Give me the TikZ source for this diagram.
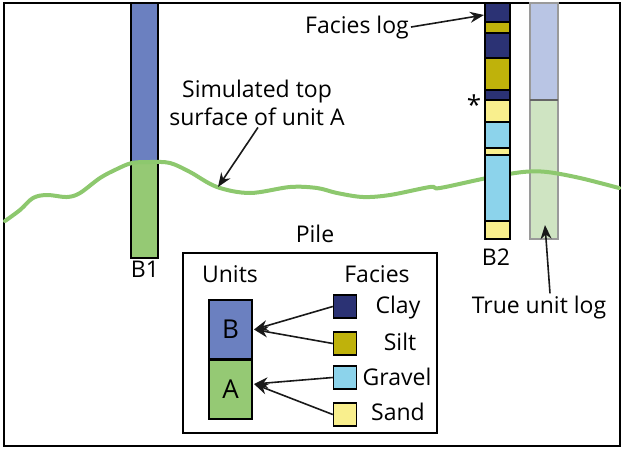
\documentclass[tikz,border=0pt]{standalone}
\usepackage{fontspec}
\setmainfont{Open Sans}
\usetikzlibrary{arrows.meta}
\definecolor{unitB}{HTML}{6B80C0}
\definecolor{unitA}{HTML}{95C974}
\definecolor{clay}{HTML}{2B3274}
\definecolor{silt}{HTML}{BFB20B}
\definecolor{gravel}{HTML}{8CD3EB}
\definecolor{sand}{HTML}{F9EF8D}
\definecolor{trueB}{HTML}{B9C5E4}
\definecolor{trueA}{HTML}{CFE4C2}
\definecolor{trueedge}{HTML}{9A9A9A}
\definecolor{wave}{HTML}{8DC86E}
\begin{document}
\begin{tikzpicture}[x=1pt,y=-1pt,
  lbl/.style={font=\fontsize{23}{26}\selectfont, anchor=base, inner sep=2pt},
  arr/.style={-{Stealth[length=14pt,width=11pt]}, line width=1.6pt, black!90},
  seg/.style={draw=black, line width=1.5pt},
  sq/.style={draw=black, line width=1.5pt, minimum size=23pt, inner sep=0pt},
  ubox/.style={draw=black, line width=2pt, minimum width=43pt, minimum height=59pt, inner sep=0pt, font=\fontsize{26}{28}\selectfont}]
\useasboundingbox (0,0) rectangle (624,450);
% frame
\draw[line width=2.5pt] (4,3) rectangle (620,446);
% true unit log
\fill[trueB] (530,3) rectangle (558,100);
\fill[trueA] (530,100) rectangle (558,239);
\draw[trueedge, line width=2pt] (530,3) rectangle (558,239);
\draw[black!60, line width=1.5pt] (530,100) -- (558,100);
% B1
\fill[unitB] (131,3) rectangle (158,162);
\fill[unitA] (131,162) rectangle (158,258);
\draw[line width=2pt] (131,3) rectangle (158,258);
% wave
\draw[wave, line width=4pt, line cap=round] plot[smooth, tension=0.55] coordinates {
 (5,221) (20,210) (33,198) (47,195) (67,197) (80,193) (100,178) (117,169) (132,163)
 (150,162) (170,163) (190,172) (217,187) (250,193) (290,187) (317,188) (337,193)
 (363,197) (390,195) (430,187) (440,188) (487,178) (523,172) (547,172) (580,178) (619,188)};
% B2 facies log
\filldraw[seg, fill=clay] (485,3) rectangle (510,22);
\filldraw[seg, fill=silt] (485,22) rectangle (510,33);
\filldraw[seg, fill=clay] (485,33) rectangle (510,58);
\filldraw[seg, fill=silt] (485,58) rectangle (510,90);
\filldraw[seg, fill=clay] (485,90) rectangle (510,100);
\filldraw[seg, fill=sand] (485,100) rectangle (510,122);
\filldraw[seg, fill=gravel] (485,122) rectangle (510,148);
\filldraw[seg, fill=sand] (485,148) rectangle (510,155);
\filldraw[seg, fill=gravel] (485,155) rectangle (510,221);
\filldraw[seg, fill=sand] (485,221) rectangle (510,239);
\coordinate (b2top) at (484,15);
\coordinate (surfpt) at (218,187);
\coordinate (truept) at (545,225);
% labels
\node[lbl] (faclog) at (357,33) {Facies log};
\node[lbl] (sim1) at (257,97) {Simulated top};
\node[lbl] (sim2) at (257,125) {surface of unit A};
\node[lbl] (b1) at (145,277) {B1};
\node[lbl] (b2) at (496,265) {B2};
\node[lbl] (truelog) at (539,313) {True unit log};
\node[lbl, font=\fontsize{26}{28}\selectfont] (ast) at (474,114) {*};
\draw[arr] (faclog.east) -- (b2top);
\draw[arr] ([xshift=1pt]sim2.south) -- (surfpt);
\draw[arr] ([xshift=11pt]truelog.north) -- (truept);
% pile legend
\node[lbl] (pile) at (315,242) {Pile};
\draw[line width=2pt] (183,253) rectangle (437,433);
\node[lbl] (units) at (230,282) {Units};
\node[lbl] (facies) at (377,282) {Facies};
\node[ubox, fill=unitB] (ub) at (230.5,329.5) {B};
\node[ubox, fill=unitA] (ua) at (230.5,389) {A};
\node[sq, fill=clay] (sqclay) at (345,306.5) {};
\node[sq, fill=silt] (sqsilt) at (345,343.5) {};
\node[sq, fill=gravel] (sqgravel) at (345,377.5) {};
\node[sq, fill=sand] (sqsand) at (345,414.5) {};
\node[lbl] (tclay) at (398,313) {Clay};
\node[lbl] (tsilt) at (400,350) {Silt};
\node[lbl] (tgravel) at (397,385) {Gravel};
\node[lbl] (tsand) at (398,420) {Sand};
\draw[arr] (sqclay.west) -- ([xshift=1pt]ub.east);
\draw[arr] (sqsilt.west) -- ([xshift=1pt]ub.east);
\draw[arr] (sqgravel.west) -- ([xshift=1pt,yshift=5pt]ua.east);
\draw[arr] (sqsand.west) -- ([xshift=1pt,yshift=5pt]ua.east);
\end{tikzpicture}
\end{document}
